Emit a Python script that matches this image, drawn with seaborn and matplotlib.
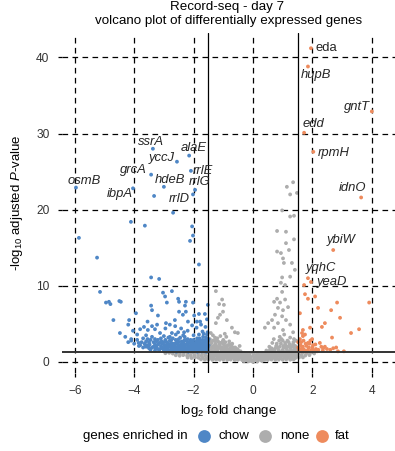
import matplotlib
matplotlib.use("Agg")
import matplotlib.pyplot as plt
from matplotlib.lines import Line2D
import seaborn as sns
import pandas as pd

# ---------------- data (log2 fold change, -log10 adjusted p) ----------------
chow_pts = [
    (-3.37, 28.0), (-2.15, 27.1), (-2.56, 26.3), (-2.09, 25.1), (-3.43, 24.6),
    (-3.00, 23.0), (-1.95, 22.6), (-5.96, 22.9), (-4.04, 22.8), (-3.33, 21.8),
    (-2.02, 22.0), (-2.69, 19.6), (-4.11, 18.4), (-3.64, 17.9), (-2.05, 17.8),
    (-2.02, 16.6), (-2.12, 15.9), (-5.86, 16.3), (-5.25, 13.7), (-1.82, 12.8),
    (-3.43, 11.1), (-3.16, 10.9), (-5.15, 9.2), (-4.95, 7.8), (-4.85, 7.9),
    (-4.80, 7.6), (-4.50, 8.0), (-4.45, 7.9), (-4.70, 5.5), (-4.48, 3.8),
    (-4.17, 5.5), (-4.20, 4.9), (-4.10, 3.0), (-3.94, 6.4), (-4.04, 4.1),
    (-3.03, 9.1), (-2.96, 8.6), (-2.90, 7.8), (-3.43, 7.4), (-3.40, 6.8),
    (-3.20, 6.1), (-2.73, 9.3), (-2.52, 8.3), (-2.49, 7.9), (-2.26, 7.9),
    (-2.29, 7.4), (-2.02, 7.8), (-2.49, 6.6), (-2.26, 6.6), (-2.36, 6.2),
    (-2.63, 5.5), (-2.19, 5.3), (-1.89, 5.3), (-1.78, 5.3), (-1.82, 6.3),
    (-1.52, 7.5), (-1.62, 6.3), (-3.23, 4.9), (-2.93, 5.1), (-3.40, 4.7),
    (-3.67, 4.6), (-3.80, 4.3), (-3.54, 4.2), (-3.13, 3.8), (-2.73, 3.8),
    (-2.52, 3.9), (-2.32, 3.9), (-3.84, 2.1),
    (-4.20, 2.6), (-4.00, 2.4), (-3.90, 2.9), (-3.80, 2.2), (-3.70, 3.1),
    (-3.60, 2.0), (-3.50, 2.6), (-3.40, 1.9), (-3.40, 3.3), (-3.30, 2.3),
    (-3.20, 1.7), (-3.20, 2.9), (-3.10, 2.1), (-3.00, 1.6), (-3.00, 2.6),
    (-3.00, 3.4), (-2.90, 1.9), (-2.90, 2.3), (-2.80, 1.5), (-2.80, 2.8),
    (-2.70, 1.7), (-2.70, 2.1), (-2.70, 3.1), (-2.60, 1.5), (-2.60, 2.5),
    (-2.50, 1.8), (-2.50, 2.2), (-2.50, 3.0), (-2.40, 1.5), (-2.40, 2.0),
    (-2.40, 2.7), (-2.30, 1.6), (-2.30, 2.3), (-2.30, 3.3), (-2.20, 1.5),
    (-2.20, 1.9), (-2.20, 2.6), (-2.10, 1.6), (-2.10, 2.1), (-2.10, 2.9),
    (-2.00, 1.5), (-2.00, 1.8), (-2.00, 2.4), (-2.00, 3.5), (-1.95, 1.6),
    (-1.90, 2.0), (-1.90, 2.7), (-1.85, 1.5), (-1.80, 1.8), (-1.80, 2.3),
    (-1.80, 3.1), (-1.75, 1.6), (-1.70, 2.0), (-1.70, 2.5), (-1.70, 4.0),
    (-1.65, 1.5), (-1.60, 1.8), (-1.60, 2.2), (-1.60, 2.9), (-1.55, 1.6),
    (-1.55, 3.6), (-1.55, 2.0), (-3.60, 3.5), (-3.90, 3.6), (-4.30, 3.3),
    (-2.60, 3.6), (-2.20, 4.1), (-1.90, 4.5), (-1.60, 4.6), (-3.50, 1.8),
    (-3.75, 2.6), (-3.65, 2.4), (-3.55, 3.0), (-3.35, 2.6), (-3.25, 2.0),
    (-3.15, 2.5), (-3.05, 1.9), (-2.95, 2.9), (-2.85, 2.1), (-2.75, 2.5),
    (-2.65, 1.9), (-2.55, 2.7), (-2.45, 1.7), (-2.35, 2.0), (-2.25, 2.8),
    (-2.15, 1.8), (-2.05, 2.2), (-1.95, 2.5), (-1.85, 2.0), (-1.75, 2.2),
    (-1.65, 2.6), (-1.58, 1.4), (-2.75, 1.5), (-2.45, 1.4), (-2.15, 1.4),
    (-1.85, 1.4), (-3.15, 1.6), (-2.35, 3.5), (-2.85, 3.2), (-1.68, 3.3),
    (-3.30, 4.3), (-2.95, 4.4), (-2.62, 4.7), (-2.42, 4.4), (-2.05, 4.8),
    (-1.75, 4.9), (-1.55, 5.6), (-1.98, 6.1), (-2.80, 4.9), (-3.55, 5.3),
]

chow_band = [
    (-3.70, 1.9), (-3.60, 2.7), (-3.55, 2.2), (-3.45, 1.6), (-3.45, 2.9),
    (-3.35, 2.0), (-3.30, 3.0), (-3.25, 2.7), (-3.20, 2.3), (-3.10, 1.8),
    (-3.10, 3.1), (-3.05, 2.4), (-2.95, 1.7), (-2.95, 2.0), (-2.90, 2.6),
    (-2.85, 1.6), (-2.85, 2.4), (-2.80, 2.0), (-2.80, 3.3), (-2.75, 1.8),
    (-2.75, 2.9), (-2.70, 2.4), (-2.65, 1.6), (-2.65, 2.2), (-2.60, 2.0),
    (-2.60, 2.9), (-2.55, 1.5), (-2.55, 2.4), (-2.50, 1.6), (-2.50, 2.6),
    (-2.45, 2.1), (-2.45, 3.2), (-2.40, 1.8), (-2.40, 2.4), (-2.35, 1.6),
    (-2.35, 2.6), (-2.30, 2.0), (-2.30, 2.9), (-2.25, 1.5), (-2.25, 2.3),
    (-2.20, 1.7), (-2.20, 2.2), (-2.20, 3.0), (-2.15, 2.0), (-2.15, 2.6),
    (-2.10, 1.5), (-2.10, 1.8), (-2.10, 2.4), (-2.05, 1.6), (-2.05, 2.7),
    (-2.00, 2.0), (-2.00, 2.9), (-1.95, 1.8), (-1.95, 2.2), (-1.90, 1.6),
    (-1.90, 2.4), (-1.88, 3.1), (-1.85, 1.8), (-1.85, 2.6), (-1.80, 1.5),
    (-1.80, 2.0), (-1.80, 2.8), (-1.75, 1.8), (-1.75, 2.5), (-1.72, 1.4),
    (-1.70, 2.2), (-1.70, 2.9), (-1.65, 1.7), (-1.65, 2.0), (-1.65, 2.3),
    (-1.62, 1.4), (-1.60, 1.6), (-1.60, 2.5), (-1.58, 3.2), (-1.55, 1.8),
    (-1.55, 2.3), (-1.52, 1.5), (-1.52, 2.7), (-1.52, 1.9), (-1.58, 2.1),
    (-1.62, 2.8), (-1.68, 1.6), (-1.78, 1.6), (-1.92, 1.5), (-2.02, 1.6),
    (-2.12, 1.7), (-2.28, 1.7), (-2.38, 1.5), (-2.52, 1.9), (-2.62, 1.7),
    (-2.78, 2.2), (-2.98, 2.2), (-3.08, 2.7), (-3.28, 1.8), (-3.48, 2.3),
    (-3.62, 2.2), (-3.85, 2.5), (-4.10, 2.8), (-3.00, 1.45), (-2.90, 1.4),
    (-2.68, 1.4), (-2.58, 1.35), (-2.32, 1.4), (-2.18, 1.35), (-2.02, 1.4),
    (-1.88, 1.35), (-1.75, 1.4), (-1.57, 1.35), (-3.30, 1.5), (-3.52, 2.0),
    (-1.50, 2.2), (-1.50, 3.0), (-1.53, 3.9), (-1.66, 3.7), (-1.82, 3.6),
]

none_pts = [
    (1.14, 23.0), (1.35, 23.6), (1.25, 22.0), (1.48, 22.2), (0.98, 19.9),
    (1.25, 19.1), (1.38, 19.2), (0.81, 17.2), (1.11, 17.1), (1.38, 16.1),
    (1.11, 15.6), (1.21, 14.7), (0.81, 14.5), (0.94, 14.3), (1.01, 13.6),
    (1.04, 13.0), (1.31, 13.0), (1.41, 12.1), (0.98, 11.1), (1.25, 11.2),
    (0.94, 10.4), (1.08, 10.1), (0.98, 9.2), (0.81, 8.3), (0.71, 7.9),
    (0.91, 7.8), (1.08, 8.2), (0.84, 7.1), (1.01, 6.8), (1.18, 7.2),
    (0.74, 6.2), (0.98, 6.0), (0.64, 5.5), (1.11, 5.5), (0.51, 5.1),
    (0.84, 5.1), (1.25, 4.9), (0.40, 4.5), (0.71, 4.5), (1.01, 4.2),
    (1.35, 3.9),
    (-1.25, 9.3), (-1.04, 8.2), (-1.14, 7.6), (-0.98, 7.5), (-1.01, 6.6),
    (-1.11, 6.2), (-1.18, 5.8), (-0.88, 5.5), (-1.25, 5.1), (-0.71, 4.5),
    (-0.61, 3.9), (-0.51, 3.8),
    (-1.45, 1.0), (-1.45, 2.0), (-1.45, 3.0), (-1.40, 0.5), (-1.40, 1.5),
    (-1.40, 2.5), (-1.35, 3.5), (-1.30, 0.8), (-1.30, 1.8), (-1.30, 2.8),
    (-1.25, 1.2), (-1.25, 2.2), (-1.20, 0.4), (-1.20, 1.6), (-1.20, 3.1),
    (-1.15, 2.6), (-1.10, 0.9), (-1.10, 2.0), (-1.10, 3.4), (-1.05, 1.4),
    (-1.00, 0.5), (-1.00, 2.4), (-1.00, 2.9), (-0.95, 1.8), (-0.90, 1.0),
    (-0.90, 3.3), (-0.85, 2.2), (-0.80, 0.4), (-0.80, 1.4), (-0.80, 2.7),
    (-0.75, 1.9), (-0.70, 0.8), (-0.70, 2.4), (-0.65, 1.3), (-0.60, 0.3),
    (-0.60, 1.9), (-0.55, 1.0), (-0.50, 0.5), (-0.50, 1.5), (-0.45, 2.1),
    (-0.40, 0.8), (-0.35, 0.3), (-0.30, 1.2), (-0.25, 0.6), (-0.20, 0.2),
    (-0.15, 0.9), (-0.10, 0.4), (-0.05, 0.1), (0.00, 0.05), (0.05, 0.3),
    (0.10, 0.6), (0.15, 0.2), (0.20, 0.9), (0.25, 0.4), (0.30, 1.2),
    (0.35, 0.7), (0.40, 0.3), (0.45, 1.5), (0.50, 0.9), (0.55, 2.0),
    (0.60, 0.5), (0.60, 1.4), (0.65, 2.5), (0.70, 1.0), (0.70, 3.0),
    (0.75, 1.8), (0.80, 0.6), (0.80, 2.4), (0.85, 1.4), (0.90, 3.3),
    (0.90, 2.0), (0.95, 0.8), (1.00, 1.6), (1.00, 2.8), (1.05, 1.1),
    (1.05, 3.6), (1.10, 2.2), (1.10, 0.5), (1.15, 1.5), (1.20, 2.6),
    (1.20, 0.9), (1.25, 1.9), (1.25, 3.2), (1.30, 1.2), (1.30, 0.4),
    (1.35, 2.3), (1.40, 1.6), (1.40, 0.8), (1.45, 2.8), (1.45, 1.1),
    (-1.48, 2.5), (-1.38, 1.1), (-1.33, 2.1), (-1.28, 3.2), (-1.18, 1.1),
    (-1.13, 2.3), (-1.08, 1.7), (-0.98, 1.2), (-0.93, 2.6), (-0.88, 1.6),
    (-0.78, 1.1), (-0.73, 2.1), (-0.68, 1.6), (-0.58, 1.3), (-0.48, 1.0),
    (-0.42, 1.4), (-0.32, 0.7), (-0.22, 0.9), (0.32, 0.8), (0.42, 1.0),
    (0.52, 1.3), (0.62, 1.8), (0.72, 1.4), (0.82, 1.9), (0.92, 1.2),
    (1.02, 2.1), (1.12, 1.8), (1.22, 1.4), (1.32, 2.0), (1.42, 2.1),
    (1.48, 1.5), (1.38, 3.0), (0.88, 2.8), (-1.42, 3.8), (-0.95, 3.7),
]

none_band = [
    (-1.48, 0.7), (-1.48, 1.3), (-1.48, 1.8), (-1.44, 2.3), (-1.42, 1.2),
    (-1.38, 1.9), (-1.36, 0.8), (-1.35, 2.8), (-1.34, 1.4), (-1.28, 1.0),
    (-1.27, 2.4), (-1.26, 1.6), (-1.22, 2.0), (-1.19, 2.7), (-1.17, 1.3),
    (-1.16, 0.7), (-1.14, 1.9), (-1.09, 1.2), (-1.08, 2.5), (-1.06, 0.7),
    (-1.04, 1.9), (-1.03, 1.0), (-1.01, 1.6), (-0.97, 2.2), (-0.96, 0.9),
    (-0.93, 1.4), (-0.91, 0.6), (-0.89, 2.0), (-0.87, 1.1), (-0.83, 1.7),
    (-0.81, 0.8), (-0.79, 2.3), (-0.77, 1.3), (-0.74, 0.5), (-0.72, 1.7),
    (-0.69, 1.1), (-0.66, 1.9), (-0.63, 0.7), (-0.62, 1.5), (-0.57, 0.6),
    (-0.56, 1.2), (-0.52, 1.7), (-0.47, 0.7), (-0.44, 1.2), (-0.38, 1.0),
    (-0.36, 0.6), (-0.28, 0.4), (-0.27, 0.9), (-0.18, 0.5), (-0.08, 0.6),
    (0.08, 0.4), (0.18, 0.5), (0.28, 0.6), (0.33, 0.4), (0.38, 0.9),
    (0.43, 0.5), (0.48, 1.1), (0.53, 0.6), (0.57, 1.6), (0.63, 1.0),
    (0.68, 1.6), (0.73, 0.7), (0.76, 1.2), (0.78, 2.1), (0.83, 0.9),
    (0.86, 1.6), (0.93, 1.0), (0.94, 2.4), (0.97, 1.4), (1.03, 1.9),
    (1.04, 0.8), (1.07, 1.3), (1.08, 2.5), (1.13, 0.8), (1.14, 1.2),
    (1.17, 2.0), (1.22, 1.1), (1.24, 2.3), (1.27, 0.7), (1.28, 1.6),
    (1.33, 0.9), (1.34, 1.4), (1.39, 1.9), (1.43, 1.3), (1.44, 0.6),
    (1.47, 0.9), (1.47, 1.8), (1.36, 2.6), (1.16, 2.8), (0.96, 3.0),
    (-1.46, 2.7), (-1.24, 2.9), (-1.02, 2.7),
]

none_low_band = [
    (-2.95, 1.15), (-2.82, 1.20), (-2.70, 1.10), (-2.57, 1.18), (-2.46, 1.12),
    (-2.33, 1.20), (-2.21, 1.10), (-2.08, 1.17), (-1.97, 1.12), (-1.84, 1.20),
    (-1.71, 1.10), (-1.60, 1.18), (-1.47, 1.12), (-1.35, 1.20), (-1.22, 1.10),
    (-1.10, 1.16), (-0.97, 1.12), (-0.86, 1.20), (-0.73, 1.10), (-0.60, 1.17),
    (-0.48, 1.12), (-0.35, 1.18), (-0.23, 1.10), (-0.10, 1.15), (0.03, 1.12),
    (0.15, 1.18), (0.27, 1.10), (0.40, 1.16), (0.52, 1.12), (0.65, 1.20),
    (0.77, 1.10), (0.90, 1.17), (1.02, 1.12), (1.15, 1.19), (1.27, 1.10),
    (1.40, 1.16), (1.53, 1.12), (1.66, 1.18), (1.79, 1.10), (1.92, 1.15),
    (2.06, 1.12),
    (-2.60, 0.88), (-2.47, 0.82), (-2.35, 0.90), (-2.22, 0.84), (-2.10, 0.86),
    (-1.98, 0.80), (-1.85, 0.90), (-1.73, 0.83), (-1.61, 0.87), (-1.48, 0.80),
    (-1.36, 0.90), (-1.24, 0.84), (-1.11, 0.86), (-0.99, 0.81), (-0.86, 0.89),
    (-0.74, 0.83), (-0.62, 0.87), (-0.49, 0.80), (-0.37, 0.88), (-0.25, 0.82),
    (-0.12, 0.85), (0.00, 0.80), (0.12, 0.88), (0.25, 0.83), (0.37, 0.86),
    (0.50, 0.80), (0.62, 0.89), (0.75, 0.84), (0.87, 0.86), (1.00, 0.81),
    (1.12, 0.88), (1.25, 0.83), (1.37, 0.87), (1.50, 0.80), (1.63, 0.89),
    (1.76, 0.84), (1.90, 0.90),
    (-2.20, 0.58), (-2.07, 0.52), (-1.95, 0.60), (-1.83, 0.54), (-1.70, 0.57),
    (-1.58, 0.51), (-1.45, 0.59), (-1.33, 0.53), (-1.20, 0.56), (-1.08, 0.50),
    (-0.95, 0.58), (-0.83, 0.53), (-0.70, 0.57), (-0.58, 0.50), (-0.45, 0.58),
    (-0.33, 0.52), (-0.20, 0.55), (-0.08, 0.48), (0.05, 0.56), (0.17, 0.52),
    (0.30, 0.57), (0.42, 0.50), (0.55, 0.58), (0.67, 0.53), (0.80, 0.56),
    (0.92, 0.51), (1.05, 0.58), (1.17, 0.53), (1.30, 0.57), (1.42, 0.52),
    (1.55, 0.59), (1.68, 0.60),
    (-1.75, 0.34), (-1.62, 0.30), (-1.50, 0.32), (-1.37, 0.28), (-1.25, 0.33),
    (-1.12, 0.29), (-1.00, 0.31), (-0.87, 0.27), (-0.75, 0.32), (-0.62, 0.28),
    (-0.50, 0.30), (-0.37, 0.26), (-0.25, 0.28), (-0.12, 0.22), (0.00, 0.20),
    (0.12, 0.24), (0.25, 0.28), (0.37, 0.30), (0.50, 0.27), (0.62, 0.32),
    (0.75, 0.28), (0.87, 0.31), (1.00, 0.29), (1.12, 0.33), (1.25, 0.30),
    (1.37, 0.34),
    (-0.30, 0.12), (-0.15, 0.08), (0.00, 0.02), (0.15, 0.08), (0.30, 0.12),
]

fat_pts = [
    (1.95, 41.2), (1.85, 38.8), (4.00, 32.9), (1.72, 30.1), (2.03, 27.6),
    (3.64, 21.6), (2.70, 14.7), (1.85, 11.0), (1.95, 10.5), (1.72, 10.1),
    (1.75, 8.9), (1.85, 8.3), (2.09, 8.6), (2.19, 7.1), (2.83, 7.8),
    (2.63, 6.8), (3.91, 7.8), (2.93, 5.8), (2.42, 5.1), (2.32, 4.6),
    (1.92, 4.5), (1.68, 4.2), (1.65, 3.8), (1.58, 6.4), (1.75, 3.6),
    (1.99, 3.0), (2.66, 3.2), (3.30, 3.8), (3.57, 4.3), (2.42, 2.0),
    (2.49, 1.7), (2.86, 1.4), (3.06, 1.4), (1.52, 2.6), (1.68, 2.0),
    (1.85, 2.5), (2.16, 1.4), (1.75, 1.4), (2.70, 1.8), (2.36, 1.8),
    (1.55, 1.5), (1.60, 2.2), (1.65, 1.8), (1.70, 2.8), (1.80, 2.1),
    (1.85, 1.6), (1.90, 2.4), (1.95, 1.4), (2.00, 1.9), (2.05, 1.5),
    (2.10, 2.3), (2.20, 1.6), (2.30, 2.0), (2.60, 1.6), (2.80, 1.9),
    (1.52, 1.9), (1.57, 1.7), (1.62, 2.6), (1.63, 1.4), (1.72, 1.6),
    (1.77, 2.4), (1.82, 1.4), (1.88, 1.9), (1.93, 2.8), (1.98, 1.6),
    (2.02, 2.2), (2.12, 1.7), (2.25, 2.5), (2.35, 1.5), (1.58, 3.0),
    (1.68, 3.4),
]

label_genes = ["eda", "hupB", "gntT", "edd", "rpmH", "idnO", "ybiW", "yqhC",
               "yeaD", "ssrA", "alaE", "yccJ", "rrlE", "rrlG", "grcA", "hdeB",
               "osmB", "ibpA", "rrlD"]
label_x = [1.95, 1.85, 4.00, 1.72, 2.03, 3.64, 2.70, 1.85, 1.95, -3.37, -2.15,
           -2.56, -2.09, -1.95, -3.43, -3.00, -5.96, -4.04, -2.02]
label_y = [41.2, 38.8, 32.9, 30.1, 27.6, 21.6, 14.7, 11.0, 10.5, 28.0, 27.1,
           26.3, 25.1, 22.6, 24.6, 23.0, 22.9, 22.8, 22.0]

groups = ["chow", "none", "fat"]
group_colors = ["#4f87c6", "#adadad", "#ee8b5d"]
x_ticks = [-6, -4, -2, 0, 2, 4]
y_ticks = [0, 10, 20, 30, 40]

# ---------------- build frame ----------------
rows = []
for g, pts in [("none", none_low_band), ("none", none_pts), ("none", none_band),
               ("chow", chow_pts), ("chow", chow_band), ("fat", fat_pts)]:
    for x, y in pts:
        rows.append({"lfc": x, "nlp": y, "group": g})
df = pd.DataFrame(rows)

# ---------------- style ----------------
sns.set_theme(style="white")
plt.rcParams["font.family"] = ["Liberation Sans", "DejaVu Sans"]
plt.rcParams["mathtext.fontset"] = "custom"
plt.rcParams["mathtext.rm"] = "Liberation Sans"
plt.rcParams["mathtext.it"] = "Liberation Sans:italic"

W, H = 395, 451
fig = plt.figure(figsize=(W / 100, H / 100), dpi=100)
L, R, T, B = 62, 395, 33, 373
ax = fig.add_axes([L / W, 1 - B / H, (R - L) / W, (B - T) / H])

ax.set_xlim(-6.43, 4.78)
ax.set_ylim(-1.45, 43.2)

for xv in x_ticks:
    ax.axvline(xv, color="black", lw=0.9, ls=(0, (4.5, 3.5)), zorder=1)
for yv in y_ticks:
    ax.axhline(yv, color="black", lw=0.9, ls=(0, (4.5, 3.5)), zorder=1)

sns.scatterplot(data=df, x="lfc", y="nlp", hue="group", hue_order=groups,
                palette=group_colors, s=7.5, linewidth=0,
                legend=False, ax=ax, zorder=2)

ax.axvline(-1.5, color="black", lw=0.9, zorder=3)
ax.axvline(1.5, color="black", lw=0.9, zorder=3)
ax.axhline(1.3, color="#333333", lw=1.4, zorder=3)

offsets = {
    "eda": (5, 0, "left"), "hupB": (8, -8, "center"), "gntT": (-2, 4, "right"),
    "edd": (9, 9, "center"), "rpmH": (4, -1, "left"), "idnO": (-9, 9, "center"),
    "ybiW": (8, 10, "center"), "yqhC": (13, 10, "center"), "yeaD": (21, 0, "center"),
    "ssrA": (-2, 7, "center"), "alaE": (5, 8, "center"), "yccJ": (-15, 4, "center"),
    "rrlE": (12, 0, "center"), "rrlG": (5, 8, "center"), "grcA": (-18, 5, "center"),
    "hdeB": (6, 7, "center"), "osmB": (8, 7, "center"), "ibpA": (-13, -6, "center"),
    "rrlD": (-14, -5, "center"),
}
for name, xv, yv in zip(label_genes, label_x, label_y):
    dx, dy, ha = offsets[name]
    ax.annotate(name, (xv, yv), xytext=(dx, dy), textcoords="offset pixels",
                ha=ha, va="center", fontsize=9.4, color="#262626",
                style="normal" if name == "eda" else "italic", zorder=4)

for s in ax.spines.values():
    s.set_visible(False)
ax.set_xticks(x_ticks)
ax.set_yticks(y_ticks)
ax.set_xticklabels([f"\u2212{abs(v)}" if v < 0 else str(v) for v in x_ticks])
ax.tick_params(axis="both", which="both", length=3, width=0.9, color="black",
               labelsize=8.6, labelcolor="#333333", direction="out", pad=6,
               bottom=True, left=True)
ax.set_xlabel("log$_{2}$ fold change", fontsize=9.5, labelpad=4, color="black")
ax.set_ylabel("-log$_{10}$ adjusted $\\it{P}$-value", fontsize=9.5, labelpad=8,
              color="black")
ax.grid(False)

fig.text(227 / W, 1 - 7 / H, "Record-seq - day 7",
         ha="center", va="center", fontsize=9.6, color="black")
fig.text(229 / W, 1 - 21 / H, "volcano plot of differentially expressed genes",
         ha="center", va="center", fontsize=9.6, color="black")

# legend (bottom)
ly = 1 - 436 / H
fig.text(188 / W, ly, "genes enriched in", ha="right", va="center",
         fontsize=9.5, color="black")
for cx, lx, g, c in zip([204, 265, 322], [218, 280, 335], groups, group_colors):
    fig.add_artist(Line2D([cx / W], [ly], marker="o", markersize=9.2, color=c,
                          markeredgewidth=0, transform=fig.transFigure))
    fig.text(lx / W, ly, g, ha="left", va="center", fontsize=9.5, color="black")

fig.savefig("out.png", dpi=100)
